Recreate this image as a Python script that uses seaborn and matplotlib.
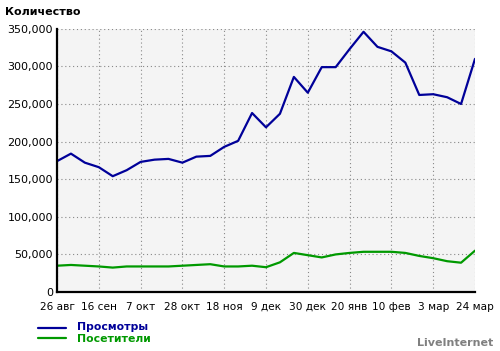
import matplotlib
matplotlib.use("Agg")
import matplotlib.pyplot as plt
import seaborn as sns
import pandas as pd
import numpy as np
from matplotlib.ticker import FuncFormatter, MultipleLocator

# Data (weekly, 26 авг .. 24 мар)
views = [174000, 184000, 172000, 166000, 154000, 162000, 173000, 176000, 177000, 172000,
         180000, 181000, 193000, 201000, 238000, 219000, 237000, 286000, 265000, 299000,
         299000, 323000, 346000, 326000, 320000, 305000, 262000, 263000, 259000, 250000,
         310000]
visitors = [35000, 36000, 35000, 34000, 32500, 34000, 34000, 34000, 34000, 35000,
            36000, 37000, 34000, 34000, 35000, 33000, 39500, 52000, 49000, 46000,
            50000, 52000, 53500, 53500, 53500, 52000, 48000, 45000, 41000, 39000,
            55000]
tick_labels = ["26 авг", "16 сен", "7 окт", "28 окт", "18 ноя", "9 дек",
               "30 дек", "20 янв", "10 фев", "3 мар", "24 мар"]
series_names = ["Просмотры", "Посетители"]
colors = ["#000099", "#009900"]

weeks = list(range(len(views)))
df = pd.DataFrame({"week": weeks * 2,
                   "value": views + visitors,
                   "series": [series_names[0]] * len(views) + [series_names[1]] * len(visitors)})

sns.set_theme(style="white")
plt.rcParams['font.family'] = ['DejaVu Sans']

fig = plt.figure(figsize=(5.0, 3.51), dpi=100)
ax = fig.add_axes([0.114, 0.168, 0.836, 0.750])
ax.set_facecolor("#f4f4f4")

sns.lineplot(data=df, x="week", y="value", hue="series", palette=colors,
             linewidth=1.6, ax=ax, legend=False)

ax.set_xlim(0, 30)
ax.set_ylim(0, 350000)
ax.set_xticks(np.arange(0, 31, 3))
ax.set_xticklabels(tick_labels)
ax.yaxis.set_major_locator(MultipleLocator(50000))
ax.yaxis.set_major_formatter(FuncFormatter(lambda v, p: f"{int(v):,}"))
ax.set_xlabel("")
ax.set_ylabel("")

ax.grid(True, color="#888888", linestyle=(0, (1, 2.5)), linewidth=0.8)
for side in ["top", "right"]:
    ax.spines[side].set_visible(False)
ax.spines["left"].set_color("black")
ax.spines["left"].set_linewidth(1.6)
ax.spines["bottom"].set_color("black")
ax.spines["bottom"].set_linewidth(1.6)
ax.tick_params(axis="x", direction="out", length=4, width=1.2, color="black",
               labelsize=7.6, pad=3, labelcolor="black")
ax.tick_params(axis="y", length=0, labelsize=8, pad=3, labelcolor="black")

fig.text(0.010, 0.966, "Количество", fontsize=8, fontweight="bold",
         ha="left", va="center", color="black")

# Legend drawn manually under the axes
line_y = [327.5, 337.7]
text_y = [327.5, 339.5]
for i, (name, col) in enumerate(zip(series_names, colors)):
    y = 1 - line_y[i] / 351
    fig.add_artist(plt.Line2D([38 / 500, 66 / 500], [y, y], color=col, linewidth=1.6))
    fig.text(77 / 500, 1 - text_y[i] / 351, name, color=col, fontsize=7.8, fontweight="bold",
             ha="left", va="center")

fig.text(493 / 500, 1 - 343 / 351, "LiveInternet", color="#808080", fontsize=8,
         fontweight="bold", ha="right", va="center")

fig.savefig("out.png", dpi=100)
